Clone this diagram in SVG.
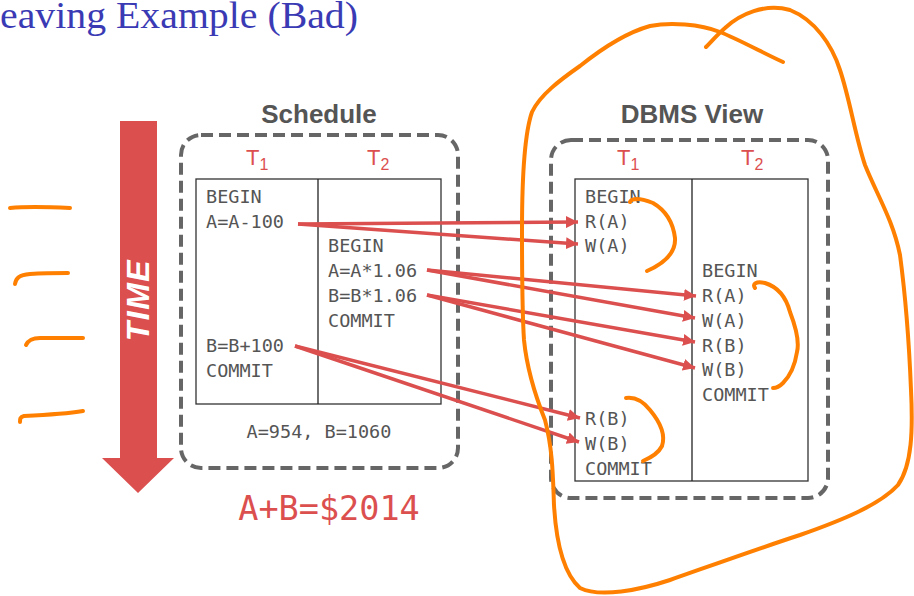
<svg xmlns="http://www.w3.org/2000/svg" width="914" height="596" viewBox="0 0 914 596">
  <style>
    .title { font-family: "Liberation Serif", "Times New Roman", serif; font-size: 37px; fill: #3a3ab4; }
    .head { font-family: "Liberation Sans", Arial, sans-serif; font-size: 26px; font-weight: bold; fill: #555; text-anchor: middle; }
    .tx { font-family: "Liberation Sans", Arial, sans-serif; font-size: 22px; fill: #dc4f4f; }
    .sub { font-size: 16px; }
    .op { font-family: "DejaVu Sans Mono", "Liberation Mono", monospace; font-size: 18.5px; fill: #555; }
    .frame { fill: none; stroke: #666; stroke-width: 4; stroke-dasharray: 12 6; }
    .table { fill: #fff; stroke: #333; stroke-width: 1.3; }
    .col { stroke: #222; stroke-width: 1.3; }
    .link { fill: none; stroke: #dc4f4f; stroke-width: 3.5; marker-end: url(#head); }
    .ink { fill: none; stroke: #ff8000; stroke-width: 4; stroke-linecap: round; stroke-linejoin: round; }
  </style>
  <defs>
    <marker id="head" markerUnits="userSpaceOnUse" markerWidth="12" markerHeight="12" refX="12" refY="6" orient="auto">
      <path d="M0,0 L12,6 L0,12 z" fill="#dc4f4f"/>
    </marker>
  </defs>

  <rect width="914" height="596" fill="#fff"/>

  <text class="title" x="0" y="28" textLength="358" lengthAdjust="spacingAndGlyphs">eaving Example (Bad)</text>

  <!-- time axis -->
  <g id="time">
    <polygon points="120,121 157,121 157,458 174,458 138,493 102,458 120,458" fill="#dc4f4f"/>
    <text x="138" y="300" transform="rotate(-90 138 300)" text-anchor="middle" dy="11" font-family="Liberation Sans, Arial, sans-serif" font-size="32" font-weight="bold" font-style="italic" fill="#fff" letter-spacing="1.5">TIME</text>
  </g>

  <!-- schedule -->
  <g id="schedule">
    <text class="head" x="319" y="123">Schedule</text>
    <rect class="frame" x="181" y="135" width="277" height="333" rx="20"/>
    <text class="tx" x="246" y="165">T<tspan class="sub" dy="5">1</tspan></text>
    <text class="tx" x="367" y="165">T<tspan class="sub" dy="5">2</tspan></text>
    <rect class="table" x="196" y="179" width="245" height="225"/>
    <line class="col" x1="318" y1="179" x2="318" y2="404"/>
    <text class="op" x="206" y="203">BEGIN</text>
    <text class="op" x="206" y="228">A=A-100</text>
    <text class="op" x="206" y="352">B=B+100</text>
    <text class="op" x="206" y="377">COMMIT</text>
    <text class="op" x="328" y="252">BEGIN</text>
    <text class="op" x="328" y="277">A=A*1.06</text>
    <text class="op" x="328" y="302">B=B*1.06</text>
    <text class="op" x="328" y="327">COMMIT</text>
    <text class="op" x="319" y="438" text-anchor="middle" font-size="19">A=954, B=1060</text>
    <text x="329" y="520" text-anchor="middle" font-family="DejaVu Sans Mono, Liberation Mono, monospace" font-size="33.5" fill="#dc4f4f">A+B=$2014</text>
  </g>

  <!-- dbms view -->
  <g id="dbms">
    <text class="head" x="692" y="123">DBMS View</text>
    <rect class="frame" x="551" y="140" width="277" height="358" rx="20"/>
    <text class="tx" x="617" y="165">T<tspan class="sub" dy="5">1</tspan></text>
    <text class="tx" x="741" y="165">T<tspan class="sub" dy="5">2</tspan></text>
    <rect class="table" x="575" y="179" width="233" height="302"/>
    <line class="col" x1="692" y1="179" x2="692" y2="481"/>
    <text class="op" x="585" y="203">BEGIN</text>
    <text class="op" x="585" y="228">R(A)</text>
    <text class="op" x="585" y="252">W(A)</text>
    <text class="op" x="585" y="425">R(B)</text>
    <text class="op" x="585" y="450">W(B)</text>
    <text class="op" x="585" y="475">COMMIT</text>
    <text class="op" x="702" y="277">BEGIN</text>
    <text class="op" x="702" y="302">R(A)</text>
    <text class="op" x="702" y="327">W(A)</text>
    <text class="op" x="702" y="352">R(B)</text>
    <text class="op" x="702" y="376">W(B)</text>
    <text class="op" x="702" y="401">COMMIT</text>
  </g>

  <!-- operation mapping -->
  <g id="connectors">
    <line class="link" x1="298" y1="224" x2="578" y2="222"/>
    <line class="link" x1="298" y1="224" x2="578" y2="244"/>
    <line class="link" x1="427" y1="270" x2="696" y2="296"/>
    <line class="link" x1="427" y1="270" x2="695" y2="318"/>
    <line class="link" x1="427" y1="295" x2="695" y2="342"/>
    <line class="link" x1="427" y1="295" x2="695" y2="368"/>
    <line class="link" x1="295" y1="346" x2="580" y2="418"/>
    <line class="link" x1="295" y1="346" x2="579" y2="442"/>
  </g>

  <!-- pen marks -->
  <g id="pen">
    <path class="ink" d="M10,208 C30,206 50,207 70,208"/>
    <path class="ink" d="M15,284 C16,278 19,275 30,274 C45,273 56,273 68,273"/>
    <path class="ink" d="M26,345 C28,341 31,338 40,338 C55,338 70,338 83,338"/>
    <path class="ink" d="M20,422 C20,419 20,417 24,416 C45,415 65,414 83,411"/>
    <path class="ink" d="M783,62 C765,54 740,40 720,32 C700,24 670,22 650,26 C625,33 600,50 580,66 C560,80 540,95 532,112 C524,135 522,180 522,230 C522,270 522,310 524,340 C527,370 535,395 545,420 C553,450 553,480 554,505 C556,540 562,572 580,588 C600,598 640,590 670,580 C710,566 760,548 800,535 C840,521 880,505 898,485 C912,465 913,430 911,390 C909,340 906,300 900,255 C893,220 877,195 865,165 C855,135 850,100 840,70 C832,45 815,20 790,10 C765,3 740,14 725,28 C716,36 711,42 706,47"/>
    <path class="ink" d="M630,202 C632,198 640,198 653,203 C665,210 673,222 675,238 C676,252 665,263 647,271"/>
    <path class="ink" d="M755,288 C752,284 756,281 765,283 C778,287 786,297 790,312 C795,325 800,340 797,352 C795,365 790,376 783,383 C779,387 776,388 773,388"/>
    <path class="ink" d="M626,398 C633,397 642,400 650,410 C660,422 666,434 662,446 C658,454 650,458 643,461"/>
  </g>
</svg>
